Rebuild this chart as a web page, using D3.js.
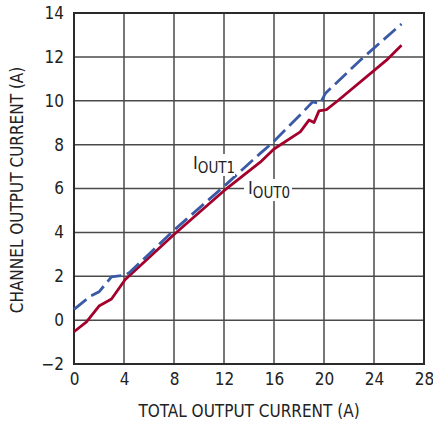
<!DOCTYPE html>
<html><head><meta charset="utf-8">
<script src="https://cdn.jsdelivr.net/npm/d3@7"></script>
<style>body{margin:0;background:#fff}</style>
</head><body>
<svg id="c" width="433" height="425"></svg>
<script>
const xTicks = [0,4,8,12,16,20,24,28];
const yTicks = [-2,0,2,4,6,8,10,12,14];
const iout0X = [0,1,2,3,4.1,8,12,14.9,16,18.1,18.8,19.2,19.6,20.2,21.1,25,26.2];
const iout0Y = [-0.53,-0.08,0.64,0.96,1.85,3.9,5.9,7.2,7.8,8.58,9.12,9.01,9.54,9.6,10.0,11.85,12.53];
const iout1X = [0,1.3,2,3,4.1,4.5,8,12,14.9,16,18.2,19.1,19.7,20.1,22.9,26.2];
const iout1Y = [0.49,1.09,1.29,1.97,2.05,2.2,4.1,6.1,7.6,8.15,9.42,9.95,9.87,10.33,11.85,13.5];
const xTitle = "TOTAL OUTPUT CURRENT (A)";
const yTitle = "CHANNEL OUTPUT CURRENT (A)";

const font = "'Liberation Sans Narrow','DejaVu Sans Condensed','Arial Narrow',sans-serif";
const svg = d3.select("#c");
const x = d3.scaleLinear().domain([0,28]).range([74,424]);
const y = d3.scaleLinear().domain([-2,14]).range([364,13]);

const grid = svg.append("g").attr("stroke","#4a4a4a").attr("stroke-width",1.5);
xTicks.forEach(t=>grid.append("line").attr("x1",x(t)).attr("x2",x(t)).attr("y1",y(-2)).attr("y2",y(14)));
yTicks.forEach(t=>grid.append("line").attr("y1",y(t)).attr("y2",y(t)).attr("x1",x(0)).attr("x2",x(28)));
svg.append("rect").attr("x",x(0)).attr("y",y(14)).attr("width",x(28)-x(0)).attr("height",y(-2)-y(14))
  .attr("fill","none").attr("stroke","#2a2a2a").attr("stroke-width",2);

const line = d3.line().x(d=>x(d[0])).y(d=>y(d[1]));
svg.append("path").datum(iout0X.map((v,i)=>[v,iout0Y[i]])).attr("d",line)
  .attr("fill","none").attr("stroke","#a3002c").attr("stroke-width",2.8).attr("stroke-linejoin","round");
svg.append("path").datum(iout1X.map((v,i)=>[v,iout1Y[i]])).attr("d",line)
  .attr("fill","none").attr("stroke","#3a5aa6").attr("stroke-width",2.8).attr("stroke-dasharray","16,6");

// labels with white boxes
function label(px,py,sub,bx,bw){
  svg.append("rect").attr("x",bx).attr("y",py-15).attr("width",bw).attr("height",22).attr("fill","#fff");
  const t = svg.append("text").attr("x",px).attr("y",py).attr("font-family",font).attr("font-size",18).attr("fill","#222");
  t.append("tspan").text("I");
  t.append("tspan").attr("dy",4).attr("font-size",15).text(sub);
}
label(193,169,"OUT1",189,46);
label(248,194,"OUT0",244,48);

// axes
const xa = svg.append("g").attr("transform",`translate(0,${y(-2)})`)
  .call(d3.axisBottom(x).tickValues(xTicks).tickSize(0).tickPadding(9));
const ya = svg.append("g").attr("transform",`translate(${x(0)},0)`)
  .call(d3.axisLeft(y).tickValues(yTicks).tickSize(0).tickPadding(10).tickFormat(d=>d<0?"\u2212"+Math.abs(d):d));
[xa,ya].forEach(a=>{a.select(".domain").remove();a.selectAll("text").attr("font-family",font).attr("font-size",17).attr("fill","#222");});

svg.append("text").attr("x",249).attr("y",417).attr("text-anchor","middle").attr("font-family",font).attr("font-size",17).attr("fill","#222").text(xTitle);
svg.append("text").attr("transform","translate(23,190) rotate(-90)").attr("text-anchor","middle").attr("font-family",font).attr("font-size",17).attr("fill","#222").text(yTitle);
</script>
</body></html>
